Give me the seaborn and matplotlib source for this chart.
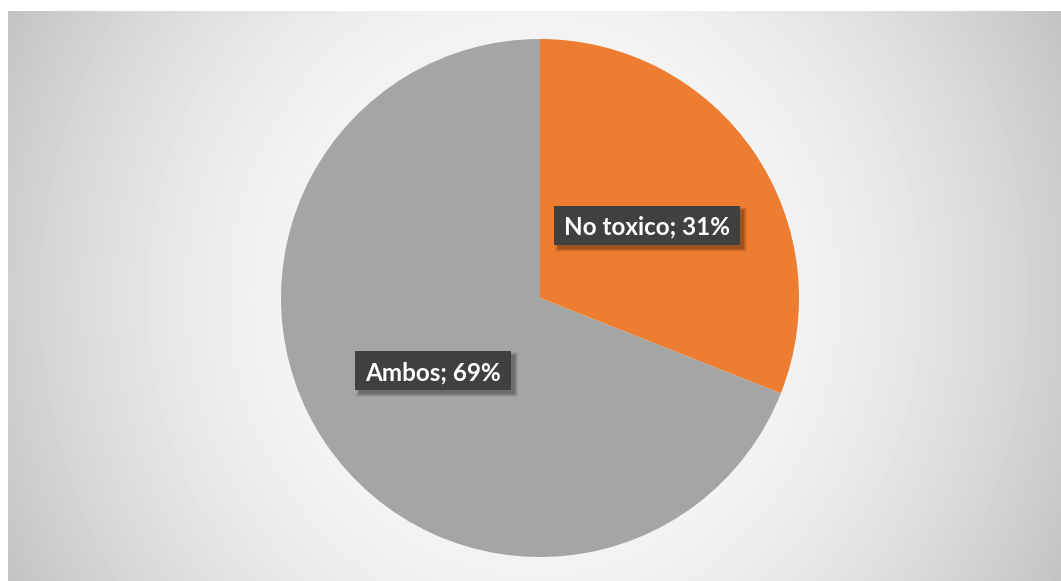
import numpy as np
import matplotlib
matplotlib.use("Agg")
import matplotlib.pyplot as plt
from matplotlib.patches import Rectangle
import seaborn as sns

categories = ["No toxico", "Ambos"]
shares = [31, 69]
slice_colors = ["#ED7D31", "#A5A5A5"]

sns.set_theme(style="white")
plt.rcParams["font.family"] = ["Lato", "DejaVu Sans"]

W, H = 1061, 581
fig = plt.figure(figsize=(W / 100, H / 100), dpi=100)
fig.patch.set_facecolor("white")

# Chart area with a soft elliptical gradient (light centre, grey edges)
x0, y_top = 8, 11
bg = fig.add_axes([x0 / W, 0, 1 - x0 / W, (H - y_top) / H])
gw, gh = W - x0, H - y_top
xx, yy = np.meshgrid(np.linspace(-1, 1, gw), np.linspace(-1, 1, gh))
r2 = xx ** 2 + (0.5 * yy) ** 2
shade = np.clip(0.995 - 0.185 * r2, 0, 1)
bg.imshow(shade, cmap="gray", vmin=0, vmax=1, aspect="auto",
          extent=[0, 1, 0, 1], interpolation="bilinear")
bg.set_axis_off()

# Pie
cx, cy, rad = 540, 298, 259
ax = fig.add_axes([(cx - rad) / W, (H - cy - rad) / H, 2 * rad / W, 2 * rad / H])
wedges, _ = ax.pie(shares, colors=slice_colors, startangle=90, counterclock=False,
                   radius=1, labels=None,
                   wedgeprops=dict(linewidth=0, edgecolor="none"))
ax.set_xlim(-1, 1)
ax.set_ylim(-1, 1)
ax.set_aspect("equal")
ax.set_axis_off()

# Data labels: white bold text on a dark box with a soft drop shadow
fig.canvas.draw()
renderer = fig.canvas.get_renderer()
total = sum(shares)
fs = 17.5
for w, name, val in zip(wedges, categories, shares):
    mid = np.deg2rad((w.theta1 + w.theta2) / 2)
    px, py = 0.5 * np.cos(mid), 0.5 * np.sin(mid)
    label = f"{name}; {round(100 * val / total)}%"
    t = ax.text(px, py, label, ha="center", va="center", fontsize=fs,
                fontweight="bold", color="white", zorder=5)
    ext = t.get_window_extent(renderer)
    bw = ext.width + 20
    bh = fs * 100 / 72 * 1.62
    ccx, ccy = ax.transData.transform((px, py))
    # soft shadow built from a few stacked translucent layers
    for grow, alpha in [(3, 0.06), (2, 0.08), (1, 0.10), (0, 0.14)]:
        fig.patches.append(Rectangle(
            ((ccx - bw / 2 + 4 - grow) / W, (ccy - bh / 2 - 4 - grow) / H),
            (bw + 2 * grow) / W, (bh + 2 * grow) / H,
            transform=fig.transFigure, facecolor="black", alpha=alpha,
            edgecolor="none", zorder=3))
    fig.patches.append(Rectangle(
        ((ccx - bw / 2) / W, (ccy - bh / 2) / H), bw / W, bh / H,
        transform=fig.transFigure, facecolor="#404040", edgecolor="none",
        zorder=4))
    t.remove()
    fig.text(ccx / W, ccy / H, label, ha="center", va="center_baseline",
             fontsize=fs, fontweight="bold", color="white", zorder=6)

fig.savefig("out.png", dpi=100)
